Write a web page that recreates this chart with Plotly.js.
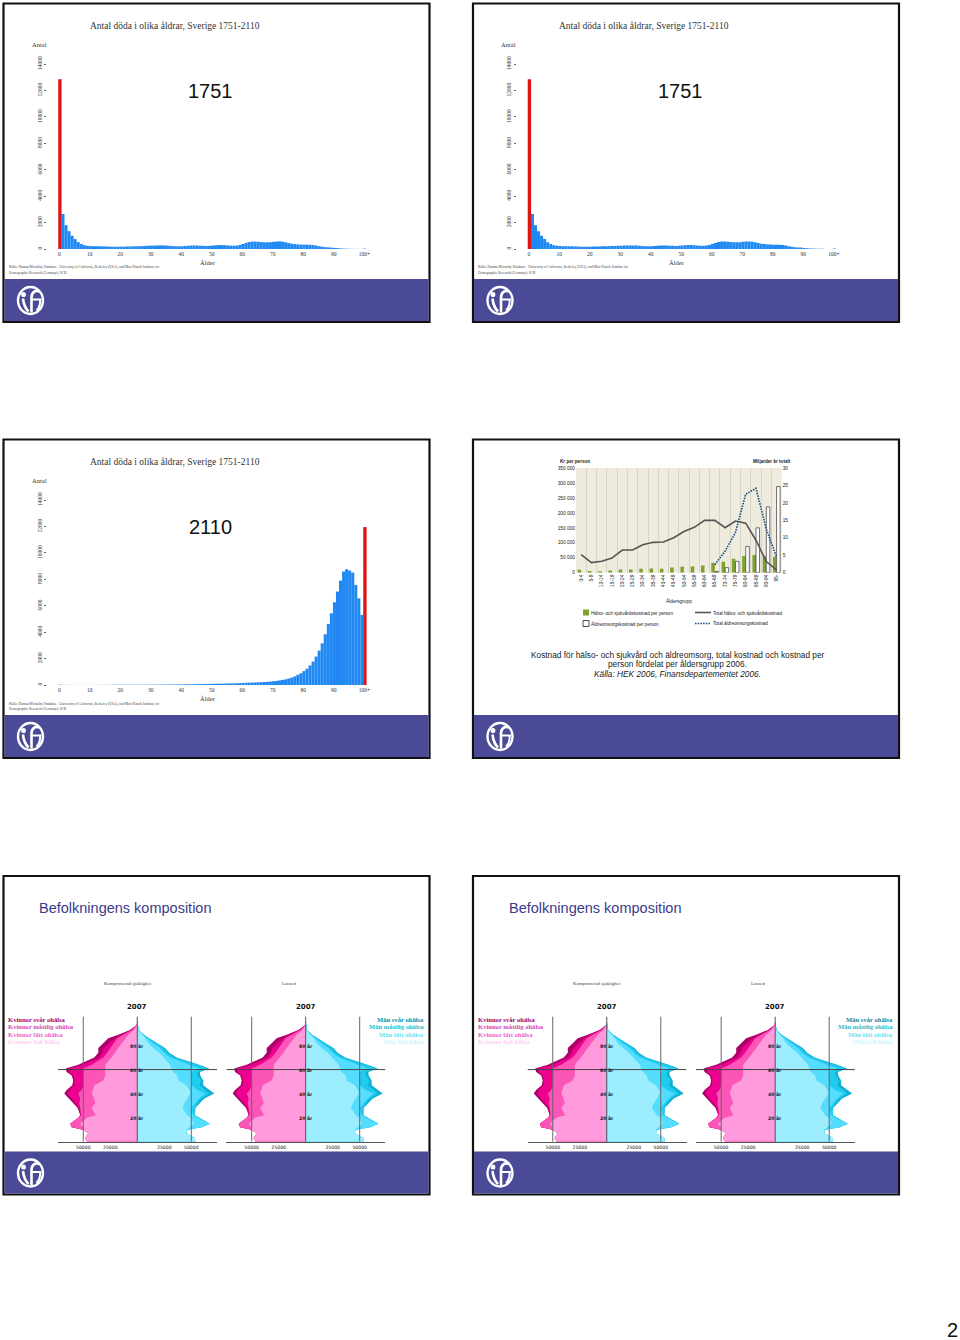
<!DOCTYPE html>
<html><head><meta charset="utf-8">
<script src="https://cdn.plot.ly/plotly-3.0.1.min.js"></script>
<style>html,body{margin:0;padding:0;background:#fff}#c{width:960px;height:1340px}</style>
</head><body><div id="c"></div>
<script>
// ---------- data ----------
const histTicks = [0,10,20,30,40,50,60,70,80,90,100];
const histTickText = ['0','10','20','30','40','50','60','70','80','90','100+'];
const histYTicks = [0,2000,4000,6000,8000,10000,12000,14000];
const ages = [];
for (let a = 0; a <= 100; a++) ages.push(a);
const deaths1751 = [null,2650,1800,1350,1000,750,520,380,290,240,220,
 215,210,205,200,195,185,175,170,170,175,
 180,190,195,200,210,215,225,235,245,255,
 260,265,270,270,260,240,225,210,205,210,
 225,245,260,265,260,250,240,235,240,260,
 280,295,295,285,270,255,245,260,310,380,
 460,530,560,560,545,525,510,505,520,545,
 570,575,555,510,450,400,370,345,335,330,
 330,320,300,265,215,170,140,120,105,85,
 65,45,30,22,15,12,8,6,4,30];
const deaths2110 = [30,12,8,6,5,5,5,5,5,5,5,
 5,6,6,8,10,13,16,18,20,20,
 20,20,20,20,20,20,22,22,24,25,
 26,28,30,32,35,38,40,42,45,48,
 50,52,55,60,65,70,75,80,85,90,
 95,100,105,110,115,120,125,135,145,155,
 165,175,180,190,200,210,225,240,260,285,
 310,345,385,430,490,560,650,770,890,1050,
 1230,1480,1770,2150,2600,3150,3840,4620,5430,6260,
 7070,7900,8585,8760,8660,8510,7575,6565,5300,null];
const redAge1751 = [0], redVal1751 = [12850];
const redAge2110 = [100], redVal2110 = [11950];

const ageGroups = ['0-4','5-9','10-14','15-19','20-24','25-29','30-34','35-39','40-44','45-49','50-54','55-59','60-64','65-69','70-74','75-79','80-84','85-89','90-94','95-'];
const healthPerPerson = [10000,6000,5000,7000,11000,11000,13000,14000,13000,17000,20000,21000,24000,33000,37000,47000,56000,59000,55000,53000];
const carePerPerson = [null,null,null,null,null,null,null,null,null,null,null,null,null,4000,17000,38000,88000,150000,220000,288000];
const healthTotal = [5.2,2.9,3.3,4.2,6.5,6.5,8.0,8.7,8.8,10.0,11.8,13.0,15.0,15.0,12.9,14.8,14.2,9.3,3.2,0.8];
const careTotal = [null,null,null,null,null,null,null,null,null,null,null,null,null,2.3,6.2,11.5,22.5,24.2,12.5,4.5];
const costLeftTicks = [0,50000,100000,150000,200000,250000,300000,350000];
const costLeftText = ['0','50 000','100 000','150 000','200 000','250 000','300 000','350 000'];
const costRightTicks = [0,5,10,15,20,25,30];

const pyrAges = [0,3,7,10,12,15,20,22,28,32,36,40,43,47,51,55,58,61,64,70,74,78,82,86,89,93,97,100];
// thousands of persons, cumulated from the centre outwards
const womenFrisk  = [46.3,48.2,45.4,50,50,52.8,47,38.5,42.2,38.9,40,42.2,41,39.8,31.5,29.6,29.6,29.6,29.6,24,20.4,17.6,14.4,11,8.3,3,0.3,0];
const womenLatt   = [46.3,48.2,45.4,50,60.7,62,54.6,51.9,52.8,53.7,52.8,54.6,51.5,50,50,50,50,50,42.2,31.5,28,25,22.2,18.5,13,5,0.4,0];
const womenMattl  = [46.3,48.2,45.4,50,60.7,62,54.6,52.8,53.7,57.4,61.1,64.8,63,58.3,58.3,59.3,63,63,50,35.2,32.4,30.6,25.9,20.4,14.8,5.6,0.5,0];
const womenSvar   = [46.3,48.2,45.4,50,60.7,62,54.6,52.8,55.2,59.3,63.9,67.6,65.4,60.2,59.3,60.7,65.4,66.3,54.6,39.8,36.1,36.1,31.5,26.9,17.6,6.8,0.6,0];
const menFrisk    = [53.7,53.4,45.4,45.4,48.2,51.9,50,46.3,41.7,43.5,46.3,49.1,48.2,45.4,38,37,33.3,31.5,30.6,24,20.4,14.8,10.2,7.4,4.6,0.9,0.2,0];
const menLatt     = [53.7,53.4,45.4,46.3,59.6,67.3,55.6,51.9,50,53.7,57.4,63,55.6,50,50,50,50,57.4,49,30.6,25,21,14.8,9.3,4.6,1.1,0.2,0];
const menMattl    = [53.7,53.4,45.4,46.3,59.6,67.3,57.4,53.4,53.7,55.6,59.3,66.7,63,57.4,59.3,55.6,55.6,64.8,55.6,34.3,27.8,24,17.6,10.2,5.6,1.3,0.3,0];
const menSvar     = [53.7,53.4,45.4,46.3,59.6,67.3,57.4,53.4,53.7,58.3,62,71.3,66.7,61.1,61.1,58.3,58,66.7,57.4,36.5,29.6,25.7,18.5,11.1,6,1.4,0.3,0];
const pyrTicks = [-50,-25,25,50];
const pyrTickText = ['50000','25000','25000','50000'];
const pyrAgeLabels = [20,40,60,80];
const womenLegend = ['Kvinnor svår ohälsa','Kvinnor måttlig ohälsa','Kvinnor lätt ohälsa','Kvinnor full hälsa'];
const menLegend = ['Män svår ohälsa','Män måttlig ohälsa','Män lätt ohälsa','Män full hälsa'];

// ---------- helpers ----------
const W = 960, H = 1340;
const FX = x => x / W, FY = y => 1 - y / H;
const traces = [], shapes = [], annotations = [], layout = {};
const SERIF = '"Liberation Serif", serif', SANS = '"Liberation Sans", Arial, sans-serif', DEJA = '"DejaVu Sans", sans-serif';
const NAVY = '#4A4A97';
function text(x, y, t, size, o) {
  o = o || {};
  annotations.push({xref:'paper', yref:'paper', x:FX(x), y:FY(y), text:t, showarrow:false,
    xanchor:o.anchor||'left', yanchor:'middle', align:o.anchor||'left',
    font:{family:o.family||SERIF, size:size, color:o.color||'#222'}, borderpad:0, borderwidth:0});
}
function rect(x0,y0,x1,y1,fill,line,lw,layer){
  shapes.push({type:'rect',xref:'paper',yref:'paper',x0:FX(x0),x1:FX(x1),y0:FY(y0),y1:FY(y1),
    fillcolor:fill,line:{color:line||fill,width:lw===undefined?0:lw},layer:layer||'below'});
}
function lineP(x0,y0,x1,y1,color,w,dash){
  shapes.push({type:'line',xref:'paper',yref:'paper',x0:FX(x0),x1:FX(x1),y0:FY(y0),y1:FY(y1),
    line:{color:color,width:w,dash:dash||'solid'},layer:'above'});
}
function pathP(cx,cy,segs,color,w,fill){
  const d = segs.map(s => s[0] + ' ' + s.slice(1).map((v,i)=> i%2===0 ? FX(cx+v) : FY(cy+v)).join(' ')).join(' ');
  shapes.push({type:'path',xref:'paper',yref:'paper',path:d,line:{color:color,width:w},fillcolor:fill||'rgba(0,0,0,0)',layer:'above'});
}
function circleP(cx,cy,rx,ry,color,w,fill){
  shapes.push({type:'circle',xref:'paper',yref:'paper',x0:FX(cx-rx),x1:FX(cx+rx),y0:FY(cy-ry),y1:FY(cy+ry),
    line:{color:color,width:w},fillcolor:fill||'rgba(0,0,0,0)',layer:'above'});
}
function slide(ox, oy) {
  rect(ox+3.5, oy+3.5, ox+429.5, oy+322, '#fff', '#111', 2.2);
  rect(ox+4.5, oy+279, ox+428.5, oy+321, NAVY);
  // logo
  const cx = ox+30.5, cy = oy+300.5;
  circleP(cx, cy, 12.5, 13.5, '#fff', 2.4);
  circleP(cx-7, cy-6, 2.4, 2.6, '#fff', 0, '#fff');
  pathP(cx,cy,[['M',-7.5,-2],['C',-7,3,-6,7,-2,11]],'#fff',2.6);
  pathP(cx,cy,[['M',1,12],['L',1,-3],['C',1,-8,5,-11,9,-9]],'#fff',2.6);
  pathP(cx,cy,[['M',1,-1],['L',11,-1]],'#fff',2);
  pathP(cx,cy,[['M',9.5,-1],['C',10,3,9,7,6,10]],'#fff',2);
}
function hist(idx, ox, oy, blue, redX, redY, yearLabel) {
  const s = idx === 1 ? '' : idx;
  traces.push({type:'bar', x:ages, y:blue, width:1, offset:-0.3, marker:{color:'#1F88F2',line:{width:0}}, xaxis:'x'+s, yaxis:'y'+s, hoverinfo:'skip', showlegend:false});
  traces.push({type:'bar', x:redX, y:redY, width:1.1, offset:-0.35, marker:{color:'#DD1515',line:{width:0}}, xaxis:'x'+s, yaxis:'y'+s, hoverinfo:'skip', showlegend:false});
  layout['xaxis'+s] = {domain:[FX(ox+47),FX(ox+375)], range:[-4.03,103.5], anchor:'y'+s, tickvals:histTicks, ticktext:histTickText, tickangle:0,
    tickfont:{family:SERIF,size:5.5,color:'#333'}, ticks:'', showgrid:false, zeroline:false, showline:false, ticklabelstandoff:0, fixedrange:true};
  layout['yaxis'+s] = {domain:[FY(oy+249),FY(oy+64)], range:[0,14000], anchor:'x'+s, tickvals:histYTicks, tickangle:-90,
    tickfont:{family:SERIF,size:5.5,color:'#333'}, ticks:'outside', ticklen:2, tickcolor:'#666', showgrid:false, zeroline:false, showline:false, fixedrange:true, tickformat:'d'};
  text(ox+89.5, oy+26, 'Antal döda i olika åldrar, Sverige 1751-2110', 9.5, {color:'#333'});
  text(ox+32, oy+44.5, 'Antal', 6.5, {color:'#333'});
  text(ox+210.5, oy+91, yearLabel, 20, {family:SANS, anchor:'center', color:'#111'});
  text(ox+207.5, oy+262.5, 'Ålder', 6.5, {anchor:'center', color:'#333'});
  text(ox+8.5, oy+268, 'Källa: Human Mortality Database.  University of California, Berkeley (USA), and Max Planck Institute for', 3.5, {color:'#444'});
  text(ox+8.5, oy+273, 'Demographic Research (Germany); SCB', 3.5, {color:'#444'});
}
function pyramid(idx, cx) {
  const s = String(idx), xa='x'+s, ya='y'+s, base={type:'scatter',mode:'lines',line:{width:0},fill:'tozerox',xaxis:xa,yaxis:ya,hoverinfo:'skip',showlegend:false};
  const neg = a => a.map(v => -v);
  [[womenSvar,'#AD0068'],[womenMattl,'#EC0090'],[womenLatt,'#FB55B8'],[womenFrisk,'#FF9BDC']].forEach(p=>{
    traces.push(Object.assign({},base,{x:neg(p[0]),y:pyrAges,fillcolor:p[1]}));
  });
  [[menSvar,'#10B0D4'],[menMattl,'#1FCCEE'],[menLatt,'#55DDFF'],[menFrisk,'#9CEEFF']].forEach(p=>{
    traces.push(Object.assign({},base,{x:p[0],y:pyrAges,fillcolor:p[1]}));
  });
  layout['xaxis'+s] = {domain:[FX(cx-79.3),FX(cx+79.7)], range:[-73.4,73.8], anchor:ya, tickvals:pyrTicks, ticktext:pyrTickText, tickangle:0,
    tickfont:{family:DEJA,size:4.6,color:'#222'}, ticks:'', showgrid:false, zeroline:false, showline:true, linecolor:'#555', linewidth:1, fixedrange:true, ticklabelstandoff:1};
  layout['yaxis'+s] = {domain:[FY(1141.7),FY(1015.5)], range:[0,105], anchor:xa, visible:false, fixedrange:true};
  [-50,50].forEach(v=>shapes.push({type:'line',xref:xa,yref:ya,x0:v,x1:v,y0:0,y1:104,line:{color:'#666',width:1},layer:'above'}));
  shapes.push({type:'line',xref:xa,yref:ya,x0:0,x1:0,y0:-3,y1:104,line:{color:'#555',width:1},layer:'above'});
  shapes.push({type:'line',xref:xa,yref:ya,x0:-73.4,x1:73.8,y0:60,y1:60,line:{color:'#444',width:1},layer:'above'});
  pyrAgeLabels.forEach(a=>annotations.push({xref:xa,yref:ya,x:0,y:a,text:'<b>'+a+' år</b>',showarrow:false,xanchor:'center',yanchor:'middle',font:{family:DEJA,size:4.6,color:'#222'}}));
  annotations.push({xref:xa,yref:'paper',x:0,y:FY(1007),text:'<b>2007</b>',showarrow:false,xanchor:'center',yanchor:'middle',font:{family:DEJA,size:7,color:'#111'}});
}
function compSlide(ox, oy, idx) {
  text(ox+39, oy+908-875.5+0, '', 1);
  text(ox+39, 908, 'Befolkningens komposition', 14.5, {family:SANS, color:'#3C3C8C'});
  text(ox+127.5, 983, 'Komprimerad sjuklighet', 4.8, {anchor:'center', color:'#444'});
  text(ox+289, 983, 'Lasnett', 4.8, {anchor:'center', color:'#444'});
  pyramid(idx, ox+137.3);
  pyramid(idx+1, ox+305.7);
  const wCol = ['#A3006A','#D23FB8','#EE5FC8','#FFD0F0'];
  const mCol = ['#0A8CAA','#22BECF','#66E2F2','#CDF6FF'];
  const ys = [1019,1026.5,1034,1041];
  womenLegend.forEach((t,i)=>text(ox+8,ys[i],'<b>'+t+'</b>',6.6,{color:wCol[i]}));
  menLegend.forEach((t,i)=>text(ox+423.5,ys[i],'<b>'+t+'</b>',6.6,{color:mCol[i],anchor:'right'}));
}

// ---------- slides ----------
const OX = 469.5;
[[0,0],[OX,0],[0,436],[OX,436],[0,872.5],[OX,872.5]].forEach(p=>slide(p[0],p[1]));

hist(1, 0, 0, deaths1751, redAge1751, redVal1751, '1751');
hist(2, OX, 0, deaths1751, redAge1751, redVal1751, '1751');
hist(3, 0, 436, deaths2110, redAge2110, redVal2110, '2110');

// cost chart
const cSmall = {family:SANS,size:4.8,color:'#222'};
traces.push({type:'bar',x:ageGroups,y:healthPerPerson,marker:{color:'#7DA32E',line:{width:0}},xaxis:'x4',yaxis:'y4',hoverinfo:'skip',showlegend:false});
traces.push({type:'bar',x:ageGroups,y:carePerPerson,marker:{color:'#fff',line:{color:'#333',width:0.7}},xaxis:'x4',yaxis:'y4',hoverinfo:'skip',showlegend:false});
traces.push({type:'scatter',mode:'lines',x:ageGroups,y:healthTotal,line:{color:'#555',width:1.6},xaxis:'x4',yaxis:'y5',hoverinfo:'skip',showlegend:false});
traces.push({type:'scatter',mode:'lines',x:ageGroups,y:careTotal,line:{color:'#114A80',width:1.6,dash:'1.5px 1.2px'},xaxis:'x4',yaxis:'y5',hoverinfo:'skip',showlegend:false,connectgaps:false});
layout.xaxis4 = {domain:[FX(576),FX(781.7)],anchor:'y4',type:'category',categoryorder:'array',categoryarray:ageGroups,range:[-0.5,19.5],
  tickson:'boundaries',ticks:'',tickangle:-90,tickfont:cSmall,showgrid:true,gridcolor:'#CFCABB',gridwidth:0.7,zeroline:false,showline:false,fixedrange:true};
layout.yaxis4 = {domain:[FY(572.7),FY(468)],range:[0,350000],anchor:'x4',tickvals:costLeftTicks,ticktext:costLeftText,tickfont:cSmall,ticks:'',showgrid:false,zeroline:false,showline:false,fixedrange:true};
layout.yaxis5 = {domain:[FY(572.7),FY(468)],range:[0,30],anchor:'x4',overlaying:'y4',side:'right',tickvals:costRightTicks,tickfont:cSmall,ticks:'',showgrid:false,zeroline:false,showline:false,fixedrange:true};
layout.bargap = 0.3;
layout.bargroupgap = 0.02;
rect(576,468,781.7,572.7,'#EFEBDF');
text(560,461,'<b>Kr per person</b>',4.6,{family:SANS});
text(791,461,'<b>Miljarder kr totalt</b>',4.6,{family:SANS,anchor:'right'});
text(679,601,'Åldersgrupp',4.8,{family:SANS,anchor:'center'});
rect(583,609.5,589,615.5,'#7DA32E',null,0,'above');
rect(583,620.5,589,626.5,'#fff','#222',0.8,'above');
text(591,612.5,'Hälso- och sjukvårdskostnad per person',4.6,{family:SANS});
text(591,623.5,'Äldreomsorgskostnad per person',4.6,{family:SANS});
lineP(695,612.5,711,612.5,'#555',1.6);
lineP(695,623.5,711,623.5,'#114A80',1.6,'1.5px 1.2px');
text(713,612.5,'Total hälso- och sjukvårdskostnad',4.6,{family:SANS});
text(713,623.5,'Total äldreomsorgskostnad',4.6,{family:SANS});
text(677.5,655,'Kostnad för hälso- och sjukvård och äldreomsorg, total kostnad och kostnad per',8.3,{family:SANS,anchor:'center'});
text(677.5,664,'person fördelat per åldersgrupp 2006.',8.3,{family:SANS,anchor:'center'});
text(677.5,673.5,'<i>Källa: HEK 2006, Finansdepartementet 2006.</i>',8.3,{family:SANS,anchor:'center'});

compSlide(0, 0, 6);
compSlide(OX, 0, 8);

text(952,1330,'2',20,{family:SANS,anchor:'center',color:'#111'});

Object.assign(layout,{width:W,height:H,margin:{l:0,r:0,t:0,b:0,pad:0},paper_bgcolor:'#fff',plot_bgcolor:'rgba(0,0,0,0)',
  showlegend:false,barmode:'group',shapes:shapes,annotations:annotations});
Plotly.newPlot('c',traces,layout,{staticPlot:true,displayModeBar:false});
</script></body></html>
